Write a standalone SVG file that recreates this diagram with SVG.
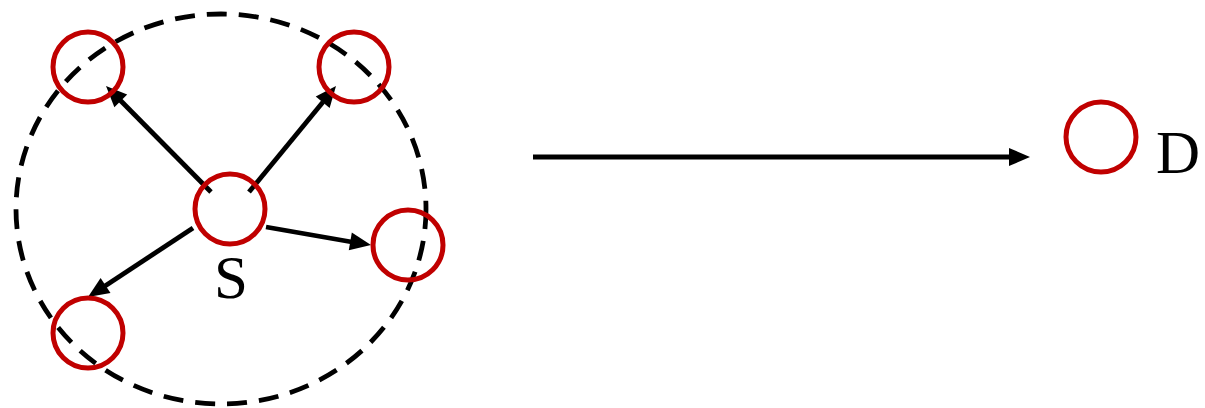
<svg xmlns="http://www.w3.org/2000/svg" xmlns:xlink="http://www.w3.org/1999/xlink" width="1205" height="408" viewBox="0 0 1205 408">
<style>
.node{fill:none;stroke:#c00000;stroke-width:5}
.edge{stroke:#000;stroke-width:4.8;fill:none}
.head{fill:#000}
.lbl{font-family:"Liberation Serif","Times New Roman",serif;font-size:61px;fill:#000}
.range{fill:none;stroke:#000;stroke-width:4.8;stroke-dasharray:20 12}
</style>
<defs>
<path id="ah" d="M0,0 L-21,-9 L-21,9 Z"/>
</defs>
<ellipse class="range" cx="221" cy="209" rx="205" ry="195"/>
<g id="connectors">
<line class="edge" x1="211" y1="192" x2="120" y2="100"/>
<use class="head" href="#ah" xlink:href="#ah" transform="translate(106,86) rotate(-134.73)"/>
<line class="edge" x1="249" y1="192" x2="323" y2="102"/>
<use class="head" href="#ah" xlink:href="#ah" transform="translate(336,86) rotate(-50.63)"/>
<line class="edge" x1="266" y1="227" x2="352" y2="242"/>
<use class="head" href="#ah" xlink:href="#ah" transform="translate(371,245) rotate(9.73)"/>
<line class="edge" x1="193" y1="228" x2="105" y2="286"/>
<use class="head" href="#ah" xlink:href="#ah" transform="translate(88,297) rotate(146.69)"/>
<line class="edge" x1="533" y1="157" x2="1012" y2="157"/>
<use class="head" href="#ah" xlink:href="#ah" transform="translate(1030,157)"/>
</g>
<g id="node-tl"><circle class="node" cx="88" cy="67" r="35"/></g>
<g id="node-tr"><circle class="node" cx="354" cy="67" r="35"/></g>
<g id="node-s"><circle class="node" cx="230" cy="209" r="35"/><text class="lbl" x="231" y="298" text-anchor="middle">S</text></g>
<g id="node-r"><circle class="node" cx="408" cy="245" r="35"/></g>
<g id="node-bl"><circle class="node" cx="88" cy="333" r="35"/></g>
<g id="node-d"><circle class="node" cx="1101" cy="137" r="35"/><text class="lbl" x="1156" y="173">D</text></g>
</svg>
